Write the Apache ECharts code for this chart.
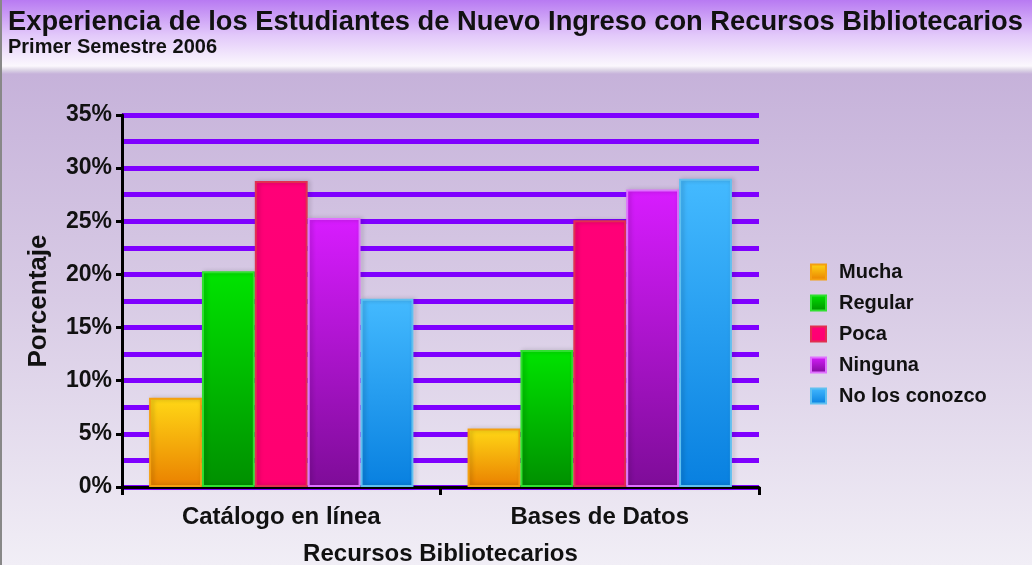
<!DOCTYPE html>
<html>
<head>
<meta charset="utf-8">
<script src="https://cdn.jsdelivr.net/npm/echarts@6/dist/echarts.min.js"></script>
<style>
  html, body { margin: 0; padding: 0; }
  body {
    width: 1032px; height: 565px; overflow: hidden;
    background: linear-gradient(to bottom, #b87af2 0px, #e2c8fa 35px, #fbf8fd 66px, #ddd6e6 70px, #c6b2da 74px, #d8cbe5 300px, #f1eef6 565px);
    border-left: 2px solid #888;
    box-sizing: border-box;
  }
  #chart { width: 1030px; height: 565px; }
</style>
</head>
<body>
<div id="chart"></div>
<script>
const categories = ['Catálogo en línea', 'Bases de Datos'];
const seriesNames = ['Mucha', 'Regular', 'Poca', 'Ninguna', 'No los conozco'];
const mucha = [8.4, 5.5];
const regular = [20.3, 12.9];
const poca = [28.8, 25.1];
const ninguna = [25.3, 28.0];
const noLosConozco = [17.7, 29.0];
const yTicks = [0, 5, 10, 15, 20, 25, 30, 35];

const seriesData = [mucha, regular, poca, ninguna, noLosConozco];
const gradients = [
  ['#ffd816', '#ea8000', '#f4a010'],
  ['#00e400', '#008f00', '#30e030'],
  ['#ff0078', '#ff0070', '#e03050'],
  ['#d81cff', '#7e0c98', '#e070ff'],
  ['#44baff', '#0880e0', '#60c0f0']
];

const font = '"Liberation Sans", Arial, sans-serif';

const chart = echarts.init(document.getElementById('chart'));

const option = {
  textStyle: { fontFamily: font },
  color: gradients.map(g => g[0]),
  title: {
    text: 'Experiencia de los Estudiantes de Nuevo Ingreso con Recursos Bibliotecarios',
    subtext: 'Primer Semestre 2006',
    left: 1, top: 4,
    itemGap: 1,
    textStyle: { fontFamily: font, fontWeight: 'bold', fontSize: 27.3, color: '#111' },
    subtextStyle: { fontFamily: font, fontWeight: 'bold', fontSize: 20, color: '#111' }
  },
  legend: {
    orient: 'vertical',
    left: 803, top: 257,
    itemWidth: 15, itemHeight: 15,
    itemGap: 11,
    icon: 'rect',
    data: seriesNames,
    textStyle: { fontFamily: font, fontWeight: 'bold', fontSize: 20, color: '#111', padding: [0, 0, 0, 8] }
  },
  grid: { left: 120, right: 273, top: 115, bottom: 78, outerBoundsMode: 'none' },
  xAxis: {
    type: 'category',
    data: categories,
    name: 'Recursos Bibliotecarios',
    nameLocation: 'middle',
    nameGap: 55,
    nameTextStyle: { fontFamily: font, fontWeight: 'bold', fontSize: 24, color: '#111' },
    axisLine: { lineStyle: { color: '#000', width: 3 } },
    axisTick: { show: true, length: 8, lineStyle: { color: '#000', width: 3 } },
    axisLabel: { fontFamily: font, fontWeight: 'bold', fontSize: 24, color: '#111', margin: 18 }
  },
  yAxis: {
    type: 'value',
    min: 0, max: 35, interval: 5,
    name: 'Porcentaje',
    nameLocation: 'middle',
    nameGap: 70,
    nameRotate: 90,
    nameTextStyle: { fontFamily: font, fontWeight: 'bold', fontSize: 26, color: '#111' },
    axisLine: { show: true, lineStyle: { color: '#000', width: 3 } },
    axisTick: { show: true, length: 6, lineStyle: { color: '#000', width: 3 } },
    axisLabel: {
      fontFamily: font, fontWeight: 'bold', fontSize: 23, color: '#111', margin: 10,
      formatter: v => yTicks.includes(v) ? v + '%' : ''
    },
    splitLine: { show: true, lineStyle: { color: '#7f00ff', width: 5 } },
    minorTick: { show: false, splitNumber: 2 },
    minorSplitLine: { show: true, lineStyle: { color: '#7f00ff', width: 5 } }
  },
  series: seriesNames.map((name, i) => ({
    name: name,
    type: 'bar',
    data: seriesData[i],
    barGap: '0%',
    barCategoryGap: '17%',
    itemStyle: {
      color: new echarts.graphic.LinearGradient(0, 0, 0, 1, [
        { offset: 0, color: gradients[i][0] },
        { offset: 1, color: gradients[i][1] }
      ]),
      borderColor: gradients[i][2],
      borderWidth: 2,
      shadowColor: 'rgba(0,0,0,0.25)',
      shadowBlur: 4,
      shadowOffsetX: 2
    }
  }))
};

chart.setOption(option);
</script>
</body>
</html>
